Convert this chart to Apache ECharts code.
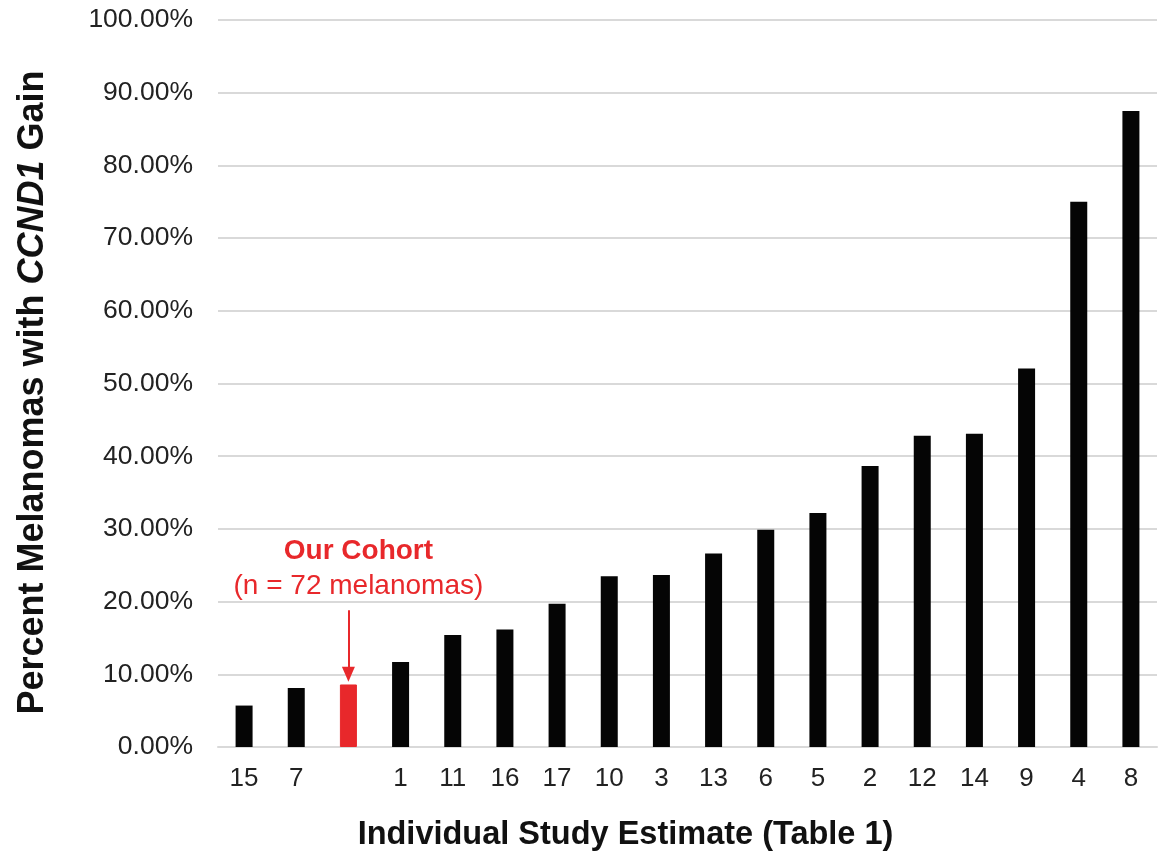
<!DOCTYPE html>
<html>
<head>
<meta charset="utf-8">
<script src="https://cdn.jsdelivr.net/npm/echarts@6/dist/echarts.min.js"></script>
<style>html,body{margin:0;padding:0;background:#fff;}#c{width:1158px;height:855px;}</style>
</head>
<body>
<div id="c"></div>
<script>
var categories = ['15','7','','1','11','16','17','10','3','13','6','5','2','12','14','9','4','8'];
var values = [5.7, 8.1, 8.6, 11.7, 15.4, 16.15, 19.7, 23.5, 23.65, 26.6, 29.9, 32.2, 38.65, 42.8, 43.1, 52.05, 75.0, 87.5];
var cohortIndex = 2;
var yTicks = [0, 10, 20, 30, 40, 50, 60, 70, 80, 90, 100];
var arrowFrom = 18.8, arrowTo = 10.0;
var annotationAt = 24.6;
var annotationLines = ['Our Cohort', '(n = 72 melanomas)'];

var FONT = '"Liberation Sans", Arial, Helvetica, sans-serif';
var RED = '#e8282b';

var seriesData = values.map(function (v, i) {
  if (i === cohortIndex) {
    return { value: v, itemStyle: { color: RED, borderColor: RED, borderWidth: 1 } };
  }
  return v;
});

var chart = echarts.init(document.getElementById('c'), null, { renderer: 'canvas' });
chart.setOption({
  animation: false,
  backgroundColor: '#fff',
  grid: { left: 218, right: 1, top: 20, bottom: 108, containLabel: false, outerBoundsMode: 'none' },
  xAxis: {
    type: 'category',
    data: categories,
    axisTick: { show: false },
    axisLine: { show: true, lineStyle: { color: '#d9d9d9', width: 2 } },
    axisLabel: { color: '#222', fontSize: 26, fontFamily: FONT, margin: 19, interval: 0 },
    name: 'Individual Study Estimate (Table 1)',
    nameLocation: 'middle',
    nameGap: 72,
    nameTextStyle: { fontSize: 32.5, fontWeight: 'bold', color: '#111', fontFamily: FONT, padding: [0, 124, 0, 0] }
  },
  yAxis: {
    type: 'value',
    min: yTicks[0],
    max: yTicks[yTicks.length - 1],
    interval: yTicks[1] - yTicks[0],
    axisLine: { show: false },
    axisTick: { show: false },
    splitLine: { show: true, lineStyle: { color: '#d9d9d9', width: 2 } },
    axisLabel: {
      color: '#222', fontSize: 26.5, fontFamily: FONT, margin: 25,
      formatter: function (v) { return v.toFixed(2) + '%'; }
    },
    name: 'Percent Melanomas with {i|CCND1} Gain',
    nameLocation: 'middle',
    nameRotate: 90,
    nameGap: 167,
    nameTextStyle: {
      fontSize: 36, fontWeight: 'bold', color: '#111', fontFamily: FONT,
      padding: [0, 18, 0, 0],
      rich: { i: { fontSize: 36, fontWeight: 'bold', fontStyle: 'italic', color: '#111', fontFamily: FONT } }
    }
  },
  series: [{
    type: 'bar',
    data: seriesData,
    barWidth: 17,
    itemStyle: { color: '#050505' },
    markLine: {
      silent: true,
      symbol: ['none', 'triangle'],
      symbolSize: [13, 15],
      label: { show: false },
      lineStyle: { color: RED, width: 2, type: 'solid' },
      data: [[
        { coord: [cohortIndex, arrowFrom] },
        { coord: [cohortIndex, arrowTo] }
      ]]
    },
    markPoint: {
      silent: true,
      symbol: 'circle',
      symbolSize: 0,
      data: [{ coord: [cohortIndex, annotationAt] }],
      label: {
        show: true,
        position: 'inside',
        offset: [10, 0],
        formatter: '{a|' + annotationLines[0] + '}\n{b|' + annotationLines[1] + '}',
        rich: {
          a: { fontSize: 28, fontWeight: 'bold', color: RED, fontFamily: FONT, lineHeight: 36, align: 'center' },
          b: { fontSize: 28, color: RED, fontFamily: FONT, lineHeight: 34, align: 'center' }
        }
      }
    }
  }]
});
</script>
</body>
</html>
